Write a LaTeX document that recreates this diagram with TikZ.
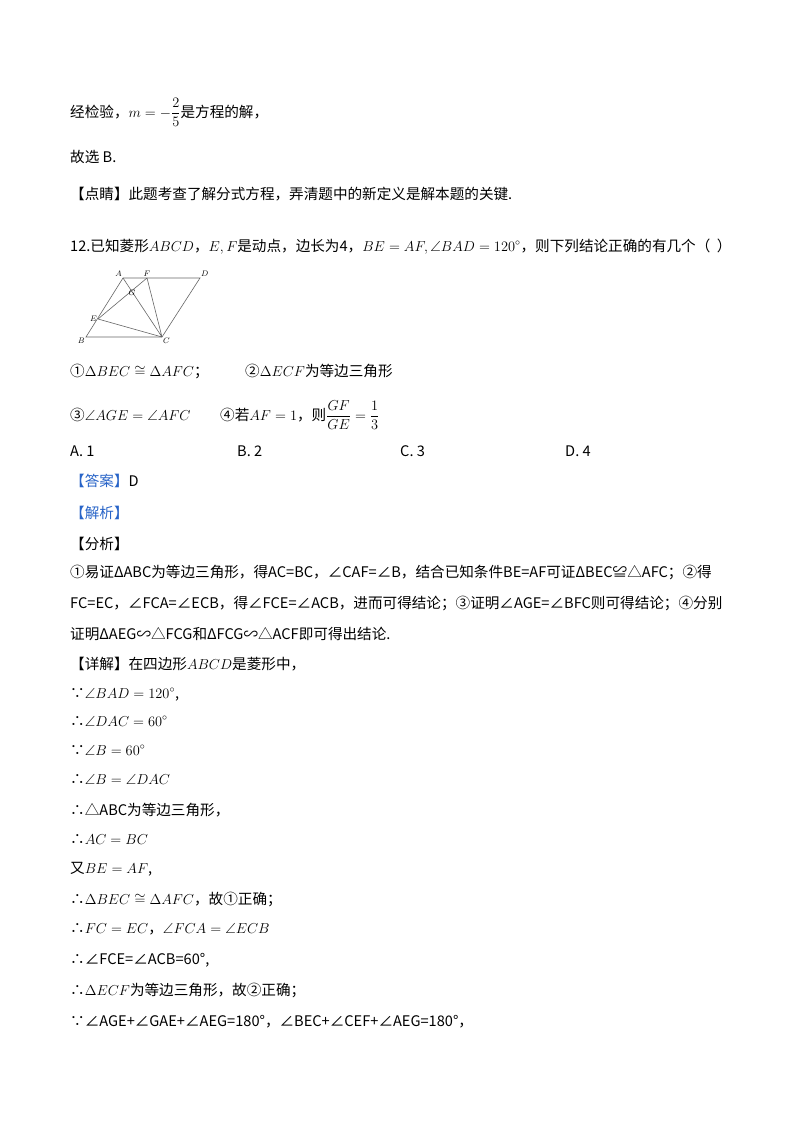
\documentclass[tikz,border=0pt]{standalone}
\usepackage{amsmath}
\usepackage[no-math]{fontspec}
\usepackage{amssymb}
\setmainfont{Noto Sans CJK SC}
\definecolor{ans}{RGB}{40,100,200}
\begin{document}
\begin{tikzpicture}[x=1pt,y=-1pt,
  t/.style={anchor=base west,inner sep=0pt,font=\fontsize{14.6}{17}\selectfont},
  lab/.style={font=\fontsize{8}{9}\selectfont,inner sep=1pt},
  seg/.style={draw=black!60,line width=0.6pt}]
\useasboundingbox (0,0) rectangle (800,1132);
\fill[white] (0,0) rectangle (800,1132);
\node[t] (l1) at (70,117) {经检验，$m=-\dfrac{2}{5}$是方程的解，};
\node[t] (l2) at (70,162) {故选 B.};
\node[t] (l3) at (70,199) {【点睛】此题考查了解分式方程，弄清题中的新定义是解本题的关键.};
\node[t] (l4) at (70,251) {12.已知菱形$ABCD$，$E,F$是动点，边长为4，$BE=AF,\angle BAD=120^\circ$，则下列结论正确的有几个（\ \ ）};
% figure
\coordinate (A) at (123,278);
\coordinate (F) at (147,278);
\coordinate (D) at (200,278);
\coordinate (B) at (86,337);
\coordinate (C) at (162,337);
\coordinate (E) at (98,319);
\coordinate (G) at (132,289);
\draw[seg] (A)--(D)--(C)--(B)--cycle;
\draw[seg] (A)--(C) (F)--(C) (E)--(C) (E)--(F);
\node[lab,above left] (nA) at (A) {$A$};
\node[lab,above] (nF) at (F) {$F$};
\node[lab,above right] (nD) at (D) {$D$};
\node[lab,below left] (nB) at (B) {$B$};
\node[lab,below right] (nC) at (C) {$C$};
\node[lab,left] (nE) at (E) {$E$};
\node[lab,below] (nG) at (G) {$G$};
\node[t] (o1) at (70,376) {①$\Delta BEC\cong\Delta AFC$；};
\node[t] (o2) at (245,376) {②$\Delta ECF$为等边三角形};
\node[t] (o3) at (70,420) {③$\angle AGE=\angle AFC$};
\node[t] (o4) at (220,420) {④若$AF=1$，则$\dfrac{GF}{GE}=\dfrac{1}{3}$};
\node[t] (c1) at (70,456) {A. 1};
\node[t] (c2) at (237,456) {B. 2};
\node[t] (c3) at (400,456) {C. 3};
\node[t] (c4) at (565,456) {D. 4};
\node[t] (a1) at (70,486) {\textcolor{ans}{【答案】}D};
\node[t] (a2) at (70,518) {\textcolor{ans}{【解析】}};
\node[t] (a3) at (70,549) {【分析】};
\node[t] (a4) at (70,577) {①易证ΔABC为等边三角形，得AC=BC，∠CAF=∠B，结合已知条件BE=AF可证ΔBEC≌△AFC；②得};
\node[t] (a5) at (70,608) {FC=EC，∠FCA=∠ECB，得∠FCE=∠ACB，进而可得结论；③证明∠AGE=∠BFC则可得结论；④分别};
\node[t] (a6) at (70,639) {证明ΔAEG∽△FCG和ΔFCG∽△ACF即可得出结论.};
\node[t] (d1) at (70,669) {【详解】在四边形$ABCD$是菱形中，};
\node[t] (d2) at (70,698) {∵$\angle BAD=120^\circ$,};
\node[t] (d3) at (70,726) {∴$\angle DAC=60^\circ$};
\node[t] (d4) at (70,755) {∵$\angle B=60^\circ$};
\node[t] (d5) at (70,784) {∴$\angle B=\angle DAC$};
\node[t] (d6) at (70,815) {∴△ABC为等边三角形，};
\node[t] (d7) at (70,844) {∴$AC=BC$};
\node[t] (d8) at (70,873) {又$BE=AF$,};
\node[t] (d9) at (70,904) {∴$\Delta BEC\cong\Delta AFC$，故①正确；};
\node[t] (d10) at (70,933) {∴$FC=EC$，$\angle FCA=\angle ECB$};
\node[t] (d11) at (70,964) {∴∠FCE=∠ACB=60°,};
\node[t] (d12) at (70,995) {∴$\Delta ECF$为等边三角形，故②正确；};
\node[t] (d13) at (70,1026) {∵∠AGE+∠GAE+∠AEG=180°，∠BEC+∠CEF+∠AEG=180°，};
\end{tikzpicture}
\end{document}
